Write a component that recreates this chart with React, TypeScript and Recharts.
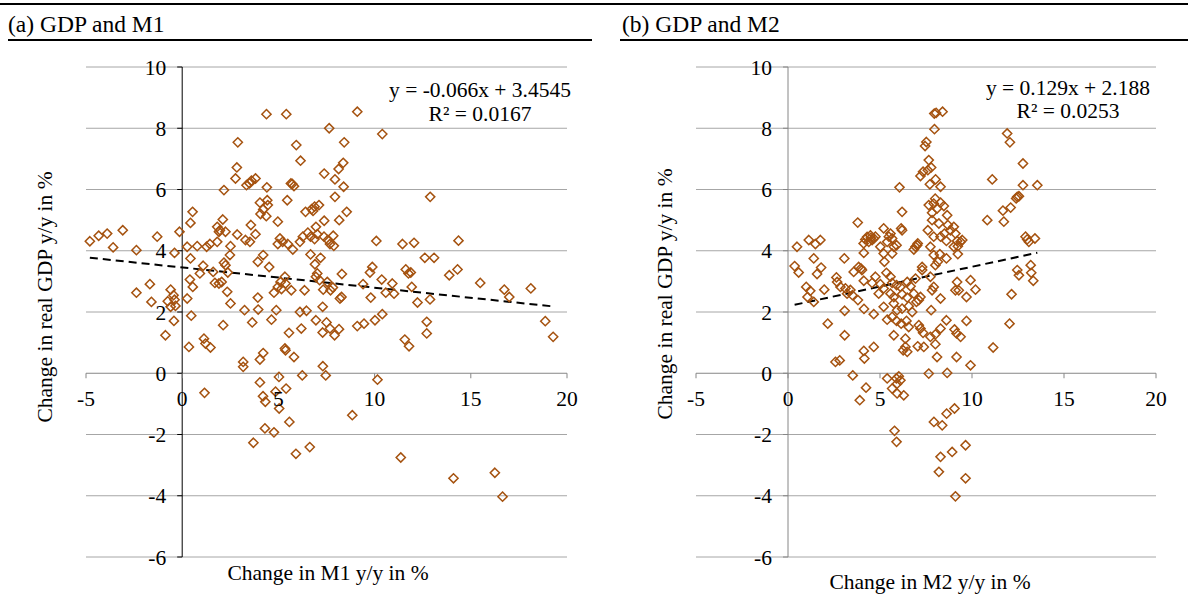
import React from 'react'
import { ScatterChart, Scatter, XAxis, YAxis, ReferenceLine } from 'recharts'

const xTicks = [-5, 0, 5, 10, 15, 20]
const yTicks = [-6, -4, -2, 0, 2, 4, 6, 8, 10]

// [money growth y/y %, real GDP growth y/y %]
const m1Points: [number, number][] = [
  [-4.8, 4.31], [-4.34, 4.49], [-3.9, 4.56], [-3.09, 4.67], [-3.59, 4.11], [-2.38, 4.02], [-1.3, 4.46],
  [-2.38, 2.63], [-1.68, 2.91], [-1.6, 2.33], [-0.87, 1.24], [-0.6, 2.73], [-0.45, 2.55], [-0.75, 2.35],
  [-0.4, 2.4], [-0.6, 2.17], [-0.35, 2.2], [-0.43, 1.71], [-0.14, 4.62], [-0.4, 3.93],
  [4.38, 8.46], [5.41, 8.46], [7.64, 8.0], [2.89, 7.54], [5.93, 7.45], [8.42, 7.54], [6.15, 6.94], [2.84, 6.72],
  [8.37, 6.87], [8.13, 6.67], [2.77, 6.36], [7.38, 6.52], [7.94, 6.33], [3.34, 6.14], [3.6, 6.29], [3.81, 6.36],
  [3.5, 6.2], [4.4, 6.07], [5.65, 6.2], [5.81, 6.11], [5.72, 6.18], [8.39, 6.09], [2.17, 5.98], [5.46, 5.65],
  [7.94, 5.76], [4.04, 5.57], [4.42, 5.65], [4.45, 5.49], [4.21, 5.35], [4.07, 5.2], [4.37, 5.13], [0.54, 5.27],
  [0.43, 4.91], [6.41, 5.27], [6.73, 5.36], [6.88, 5.44], [7.11, 5.49], [6.8, 5.3], [8.55, 5.27], [4.97, 4.95],
  [7.38, 4.98], [8.16, 5.0], [3.57, 4.84], [6.95, 4.78], [2.11, 5.02], [1.82, 4.78], [1.96, 4.67], [1.91, 4.62],
  [2.25, 4.62], [2.86, 4.53], [3.29, 4.35], [3.52, 4.29], [3.81, 4.54], [0.26, 4.13], [0.78, 4.15], [1.27, 4.13],
  [1.44, 4.22], [1.82, 4.29], [2.51, 4.15], [5.08, 4.4], [5.22, 4.29], [5.49, 4.22], [5.75, 4.04], [6.12, 4.29],
  [6.27, 4.46], [6.53, 4.59], [6.67, 4.46], [6.88, 4.38], [7.02, 4.54], [7.37, 4.46], [7.57, 4.35], [7.85, 4.49],
  [7.88, 4.16], [7.68, 4.22], [4.97, 4.22], [6.67, 3.88], [7.19, 3.77], [4.21, 3.86], [3.93, 3.64], [4.52, 3.47],
  [2.48, 3.86], [2.17, 3.61], [2.25, 3.53], [2.37, 3.29], [1.09, 3.51], [0.43, 3.75], [0.92, 3.26], [0.4, 3.06],
  [0.55, 2.82], [1.61, 3.31], [1.7, 2.95], [1.91, 2.93], [2.05, 2.98], [2.34, 2.66], [2.51, 2.28], [0.26, 2.44],
  [0.47, 1.88], [6.9, 3.56], [7.02, 3.26], [6.95, 3.15], [7.14, 3.04], [7.54, 2.98], [7.33, 2.73], [7.71, 2.71],
  [7.83, 2.8], [8.3, 3.24], [5.34, 3.15], [5.11, 2.98], [4.97, 2.82], [5.16, 2.75], [4.77, 2.63], [5.67, 2.71],
  [6.36, 2.71], [5.37, 2.93], [8.2, 2.44], [8.28, 2.49], [3.93, 2.47], [3.24, 2.06], [3.95, 2.08], [4.89, 2.06],
  [4.64, 1.75], [3.64, 1.66], [2.13, 1.57], [6.12, 2.0], [6.46, 2.04], [7.3, 2.17], [6.95, 1.73], [7.5, 1.66],
  [7.68, 1.46], [6.19, 1.46], [5.55, 1.32], [7.3, 1.33], [7.92, 1.24], [8.15, 1.44], [0.35, 0.86], [1.13, 1.13],
  [1.21, 0.97], [1.47, 0.84], [3.17, 0.37], [3.17, 0.21], [4.04, 0.45], [4.21, 0.66], [5.34, 0.81], [5.37, 0.75],
  [5.81, 0.53], [7.31, 0.23],
  [9.1, 8.54], [10.4, 7.81], [10.09, 4.32], [11.45, 4.22], [12.05, 4.26], [14.36, 4.33], [12.61, 3.77], [13.09, 3.77],
  [9.88, 3.47], [9.76, 3.29], [10.37, 3.06], [9.4, 2.91], [10.92, 2.93], [11.62, 3.39], [11.88, 3.29], [11.76, 3.26],
  [13.88, 3.2], [14.31, 3.39], [15.49, 2.95], [16.74, 2.73], [17.0, 2.49], [18.12, 2.77], [11.93, 2.82], [10.58, 2.63],
  [11.01, 2.6], [12.23, 2.31], [12.88, 2.41], [9.8, 2.47], [10.4, 1.93], [10.02, 1.73], [9.45, 1.62], [9.1, 1.54],
  [12.71, 1.68], [12.71, 1.3], [11.57, 1.1], [11.79, 0.88], [18.87, 1.7], [19.28, 1.19], [12.89, 5.76],
  [1.16, -0.64], [4.04, -0.3], [4.2, -0.75], [4.32, -0.93], [4.85, -0.6], [5.04, -1.15], [5.03, -0.12], [5.4, -0.5],
  [5.57, -1.59], [4.3, -1.8], [4.77, -1.93], [3.7, -2.27], [5.91, -2.63], [6.63, -2.41], [6.24, -0.07], [7.46, -0.07],
  [8.84, -1.37], [10.15, -0.21], [11.36, -2.75], [14.1, -3.43], [16.25, -3.25], [16.65, -4.03],
]

const m2Points: [number, number][] = [
  [0.36, 3.5], [0.58, 3.29], [0.49, 4.13], [1.13, 4.35], [1.49, 4.22], [1.76, 4.35], [1.4, 3.75], [1.8, 3.45],
  [1.58, 3.24], [0.99, 2.82], [1.21, 2.69], [1.06, 2.49], [1.4, 2.33], [1.97, 2.73], [2.16, 1.62], [2.63, 3.13],
  [2.67, 2.98], [2.58, 0.37], [2.81, 0.42], [2.85, 2.82],
  [3.06, 3.75], [3.79, 4.92], [3.12, 2.77], [3.39, 2.72], [3.5, 2.55], [3.8, 2.39], [4.13, 2.1], [3.08, 2.04],
  [3.08, 1.24], [4.12, 0.73], [4.15, 0.48], [3.52, -0.07], [4.24, -0.47], [3.9, -0.88], [3.84, 3.47], [3.97, 3.42],
  [4.02, 3.37], [4.12, 3.02], [3.57, 3.31], [4.12, 3.93], [4.11, 4.24], [3.21, 2.6],
  [4.3, 4.45], [4.48, 4.5], [4.57, 4.35], [4.66, 4.4], [4.39, 4.29], [4.75, 4.46], [4.2, 4.37], [4.5, 4.42],
  [4.66, 1.93], [4.66, 0.86], [5.2, 4.73], [5.57, 4.56], [5.66, 4.4], [5.9, 4.18], [5.75, 4.13], [5.39, 4.29],
  [5.48, 4.46], [5.02, 4.13], [5.2, 3.91], [5.66, 3.91], [5.24, 3.64], [6.2, 5.27], [6.06, 6.07], [6.2, 4.67],
  [6.15, 4.73], [4.75, 3.15], [5.35, 3.28], [5.57, 3.15], [4.57, 2.95], [5.02, 2.91], [5.66, 2.95], [5.9, 2.88],
  [6.11, 2.82], [6.48, 2.98], [5.2, 2.77], [4.93, 2.6], [5.57, 2.6], [5.75, 2.49], [6.2, 2.58], [6.48, 2.47],
  [5.2, 2.17], [5.75, 2.28], [5.93, 2.06], [6.2, 2.11], [5.39, 1.75], [5.66, 1.84], [5.9, 1.71], [6.15, 1.62],
  [6.44, 1.71], [5.75, 1.24], [6.38, 1.13], [6.38, 0.86], [6.48, 0.7], [6.26, 0.75], [5.39, -0.17], [5.89, -0.17],
  [6.02, -0.1], [6.11, -0.23], [5.93, -0.34], [5.66, -0.5], [5.93, -0.66], [6.29, -0.72], [5.79, -1.88], [5.9, -2.24],
  [6.66, 2.84], [6.84, 2.6], [7.11, 2.39], [7.2, 2.49], [6.56, 2.19], [6.75, 2.0], [6.98, 2.33], [6.56, 1.51],
  [7.11, 1.57], [7.2, 1.46], [7.34, 1.32], [7.74, 1.19], [8.01, 1.27], [7.05, 0.88], [7.38, 0.86], [8.01, 0.95],
  [6.93, 3.09], [7.29, 3.37], [7.74, 3.15], [7.83, 2.71], [7.92, 2.82], [8.29, 2.44], [7.78, 2.06], [8.61, 1.73],
  [8.29, 1.46], [9.05, 1.43], [9.16, 1.3], [9.38, 1.19], [9.16, 0.53], [8.1, 0.53], [8.65, 0.01], [7.65, -0.01],
  [9.19, 2.98], [9.1, 2.71], [9.28, 2.71], [6.93, 4.13], [7.02, 4.18], [7.05, 4.24], [6.84, 4.04], [7.29, 3.47],
  [7.92, 3.86], [8.25, 3.89], [8.14, 3.64], [8.01, 3.53], [8.61, 3.75], [9.38, 4.29], [9.23, 3.89], [7.93, -1.59],
  [8.38, -1.7], [8.62, -1.32], [9.05, -1.15], [8.29, -2.73], [8.92, -2.57], [8.2, -3.22], [9.1, -4.02],
  [7.95, 8.48], [8.05, 8.5], [8.4, 8.54], [7.96, 7.97], [7.52, 7.55], [7.45, 7.42], [7.65, 6.96], [7.78, 6.72],
  [7.6, 6.63], [7.34, 6.58], [7.2, 6.44], [8.02, 6.33], [8.29, 6.09], [7.71, 6.17], [8.0, 5.7], [7.92, 5.54],
  [8.29, 5.57], [7.65, 5.49], [8.47, 5.46], [8.1, 5.38], [7.83, 5.24], [8.65, 5.16], [7.83, 5.0], [8.2, 4.89],
  [8.69, 4.84], [9.01, 4.78], [7.6, 4.67], [8.83, 4.67], [8.5, 4.56], [9.1, 4.56], [7.92, 4.46], [8.29, 4.46],
  [8.61, 4.32], [9.19, 4.32], [9.47, 4.35], [9.23, 4.15], [9.01, 4.13], [7.74, 4.13],
  [9.92, 3.04], [10.19, 2.73], [9.7, 2.49], [9.7, 1.71], [9.92, 0.26], [10.83, 5.0], [11.1, 6.33], [11.91, 7.83],
  [12.06, 7.54], [12.77, 6.85], [12.77, 6.14], [13.55, 6.14], [12.46, 5.76], [12.4, 5.71], [12.55, 5.78], [12.1, 5.41],
  [11.68, 5.31], [11.73, 4.95], [12.91, 4.46], [13.0, 4.37], [13.42, 4.4], [13.09, 4.29], [12.46, 3.37], [12.55, 3.2],
  [13.19, 3.53], [13.33, 3.02], [13.22, 3.28], [12.15, 2.58], [12.04, 1.62], [11.15, 0.84], [9.65, -2.35], [9.65, -3.43],
]

// linear trend lines as printed on the chart
const m1Fit = [-0.066, 3.4545]
const m2Fit = [0.129, 2.188]

const font = '"Liberation Serif", "Times New Roman", serif'
const markerColor = '#A5520F'

function Diamond(props: any) {
  const { cx, cy } = props
  if (cx == null || cy == null) return null
  const r = 4.6
  return (
    <path
      d={`M${cx},${cy - r}L${cx + r},${cy}L${cx},${cy + r}L${cx - r},${cy}Z`}
      fill="none"
      stroke={markerColor}
      strokeWidth={1.5}
    />
  )
}

const tickLabel = { fill: '#000', fontSize: 21.5, fontFamily: font }

function Panel({ points, fit, width, margin, axisColor }: any) {
  const data = points.map(([x, y]: number[]) => ({ x, y }))
  const xs = points.map((p: number[]) => p[0])
  const lo = Math.min(...xs)
  const hi = Math.max(...xs)
  const [slope, intercept] = fit

  return (
    <ScatterChart width={width} height={616} margin={margin}>
      <XAxis type="number" dataKey="x" domain={[-5, 20]} ticks={xTicks} hide />
      <YAxis type="number" dataKey="y" domain={[-6, 10]} ticks={yTicks} hide />
      {yTicks.filter((v) => v !== 0).map((v) => (
        <ReferenceLine key={`g${v}`} y={v} stroke="#a6a6a6" />
      ))}
      <ReferenceLine y={0} stroke="#868686" />
      <ReferenceLine x={0} stroke={axisColor} />
      {yTicks.map((v) => (
        <ReferenceLine
          key={`yt${v}`}
          segment={[{ x: 0, y: v }, { x: 0, y: v }]}
          shape={(p: any) => <line x1={p.x1 - 5} y1={p.y1} x2={p.x1} y2={p.y1} stroke={axisColor} />}
          label={{ value: String(v), position: 'left', offset: 16, ...tickLabel }}
        />
      ))}
      {xTicks.map((v) => (
        <ReferenceLine
          key={`xt${v}`}
          segment={[{ x: v, y: 0 }, { x: v, y: 0 }]}
          shape={(p: any) => <line x1={p.x1} y1={p.y1} x2={p.x1} y2={p.y1 + 5} stroke="#868686" />}
          label={{ value: String(v), position: 'bottom', offset: 17, ...tickLabel }}
        />
      ))}
      <Scatter data={data} shape={Diamond} isAnimationActive={false} />
      <ReferenceLine
        segment={[
          { x: lo, y: slope * lo + intercept },
          { x: hi, y: slope * hi + intercept },
        ]}
        stroke="#000"
        strokeWidth={2}
        strokeDasharray="8 5"
      />
    </ScatterChart>
  )
}

const abs = (style: React.CSSProperties): React.CSSProperties => ({
  position: 'absolute',
  fontFamily: font,
  color: '#000',
  whiteSpace: 'nowrap',
  ...style,
})

export default function App() {
  return (
    <div style={{ position: 'absolute', left: 0, top: 0, width: 1188, height: 616, background: '#fff', overflow: 'hidden' }}>
      {/* header rules and titles */}
      <div style={abs({ left: 0, top: 3, width: 600, height: 2, background: '#000' })} />
      <div style={abs({ left: 600, top: 3, width: 588, height: 2, background: '#000' })} />
      <div style={abs({ left: 8, top: 39, width: 584, height: 2, background: '#000' })} />
      <div style={abs({ left: 620, top: 39, width: 568, height: 2, background: '#000' })} />
      <div style={abs({ left: 8, top: 9, fontSize: 23.5, lineHeight: '30px' })}>(a) GDP and M1</div>
      <div style={abs({ left: 622, top: 9, fontSize: 23.5, lineHeight: '30px' })}>(b) GDP and M2</div>

      <div style={{ position: 'absolute', left: 0, top: 0 }}>
        <Panel points={m1Points} fit={m1Fit} width={600} axisColor="#000"
          margin={{ top: 67, right: 33, bottom: 59, left: 86 }} />
      </div>
      <div style={{ position: 'absolute', left: 600, top: 0 }}>
        <Panel points={m2Points} fit={m2Fit} width={588} axisColor="#868686"
          margin={{ top: 67, right: 32, bottom: 59, left: 96 }} />
      </div>

      {/* trend equations */}
      <div style={abs({ left: 330, top: 79, width: 300, textAlign: 'center', fontSize: 21.5, lineHeight: '23.5px' })}>
        y = -0.066x + 3.4545<br />R² = 0.0167
      </div>
      <div style={abs({ left: 918, top: 77, width: 300, textAlign: 'center', fontSize: 21.5, lineHeight: '22.5px' })}>
        y = 0.129x + 2.188<br />R² = 0.0253
      </div>

      {/* axis titles */}
      <div style={abs({ left: 328, top: 573, fontSize: 21.5, transform: 'translate(-50%, -50%)' })}>Change in M1 y/y in %</div>
      <div style={abs({ left: 930, top: 582, fontSize: 21.5, transform: 'translate(-50%, -50%)' })}>Change in M2 y/y in %</div>
      <div style={abs({ left: 45, top: 297, fontSize: 21.5, transform: 'translate(-50%, -50%) rotate(-90deg)' })}>Change in real GDP y/y in %</div>
      <div style={abs({ left: 665, top: 294, fontSize: 21.5, transform: 'translate(-50%, -50%) rotate(-90deg)' })}>Change in real GDP y/y in %</div>
    </div>
  )
}
